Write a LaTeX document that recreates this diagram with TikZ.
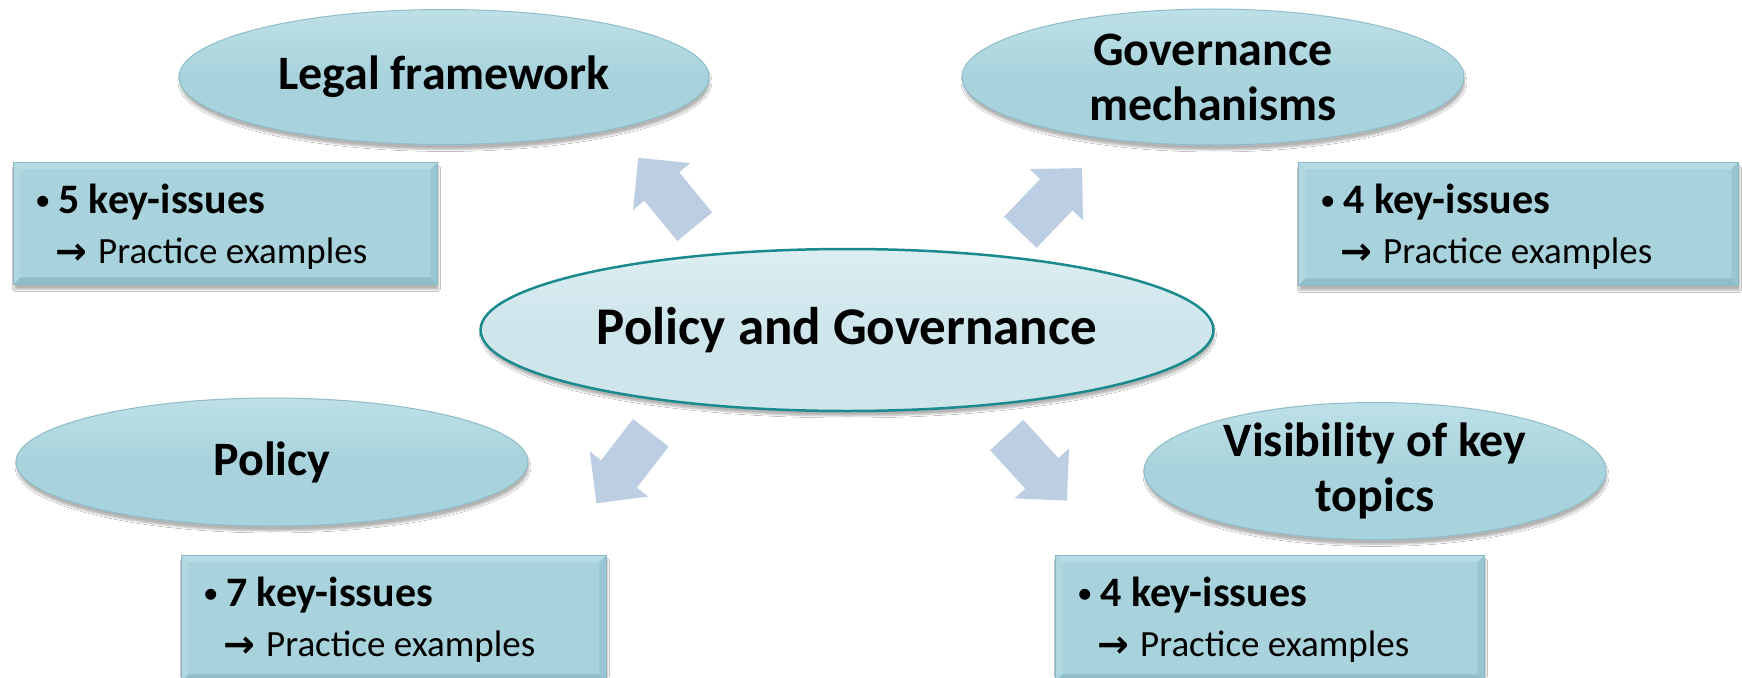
\documentclass[tikz,border=0pt]{standalone}
\usepackage{fontspec}
\setmainfont{Carlito}
\newfontfamily\symfont{DejaVu Sans}
\usetikzlibrary{shapes.geometric,shadows.blur}
\definecolor{tealfill}{HTML}{A8D3DC}
\definecolor{tealtop}{HTML}{BEE0E7}
\definecolor{tealedge}{HTML}{8EBEC9}
\definecolor{centerfill}{HTML}{CDE5EB}
\definecolor{centertop}{HTML}{DCEEF2}
\definecolor{centeredge}{HTML}{1B8A8C}
\definecolor{arrowfill}{HTML}{BDCDE2}
\definecolor{bevtop}{HTML}{B8DCE4}
\definecolor{bevleft}{HTML}{B1D8E0}
\definecolor{bevbot}{HTML}{8FBEC9}
\definecolor{bevright}{HTML}{98C6D0}
\definecolor{boxedge}{HTML}{8AB9C4}
\newcommand\smallbullet{\makebox[23pt][l]{\raisebox{3pt}{\mdseries\fontsize{31}{31}\selectfont •}}}
\newcommand\practicearrow{\makebox[43pt][l]{\raisebox{-1pt}{\symfont\bfseries\fontsize{38}{40}\selectfont →}}}
\begin{document}
\begin{tikzpicture}[x=1pt,y=-1pt,
  softshadow/.style={blur shadow={shadow xshift=1pt, shadow yshift=-5pt, shadow opacity=30, shadow blur steps=6}},
  oval/.style={ellipse, inner sep=0pt, top color=tealtop, bottom color=tealfill, middle color=tealfill,
    draw=tealedge, line width=1pt, softshadow, align=center,
    font=\bfseries\fontsize{48}{55}\selectfont},
  mainoval/.style={ellipse, inner sep=0pt, top color=centertop, bottom color=centerfill, middle color=centerfill,
    draw=centeredge, line width=2.5pt, softshadow, align=center,
    font=\bfseries\fontsize{53}{60}\selectfont},
  keybox/.style={rectangle, inner sep=0pt, anchor=north west, fill=tealfill, draw=boxedge, line width=0.8pt, softshadow,
    path picture={
      \fill[bevtop] (path picture bounding box.north west) -- (path picture bounding box.north east)
        -- ([shift={(-7pt,-7pt)}]path picture bounding box.north east) -- ([shift={(7pt,-7pt)}]path picture bounding box.north west) -- cycle;
      \fill[bevleft] (path picture bounding box.north west) -- ([shift={(7pt,-7pt)}]path picture bounding box.north west)
        -- ([shift={(7pt,7pt)}]path picture bounding box.south west) -- (path picture bounding box.south west) -- cycle;
      \fill[bevbot] (path picture bounding box.south west) -- (path picture bounding box.south east)
        -- ([shift={(-7pt,7pt)}]path picture bounding box.south east) -- ([shift={(7pt,7pt)}]path picture bounding box.south west) -- cycle;
      \fill[bevright] (path picture bounding box.north east) -- (path picture bounding box.south east)
        -- ([shift={(-7pt,7pt)}]path picture bounding box.south east) -- ([shift={(-7pt,-7pt)}]path picture bounding box.north east) -- cycle;
    }},
  bline/.style={anchor=base west, inner sep=0pt, font=\bfseries\fontsize{42}{50}\selectfont},
  pline/.style={anchor=base west, inner sep=0pt, font=\fontsize{37}{44}\selectfont},
  blockarrow/.pic={\fill[arrowfill] (0,-22.5) -- (52,-22.5) -- (52,-37) -- (89,0) -- (52,37) -- (52,22.5) -- (0,22.5) -- cycle;}
]
\clip (0,0) rectangle (1742,677);
\fill[white] (0,0) rectangle (1742,677);

% ellipses
\node[oval, minimum width=530pt, minimum height=135pt] (legal) at (444,77) {Legal framework};
\node[oval, minimum width=502pt, minimum height=136pt] (gov) at (1213,77) {Governance\\mechanisms};
\node[oval, minimum width=512pt, minimum height=128pt] (pol) at (272,462) {Policy};
\node[oval, minimum width=462pt, minimum height=137pt] (vis) at (1375,471) {Visibility of key\\topics};
\node[mainoval, minimum width=733pt, minimum height=162pt] (pg) at (847,330) {Policy and Governance};

% boxes
\node[keybox, minimum width=424pt, minimum height=122pt] (b1) at (13,162) {};
\node[keybox, minimum width=440pt, minimum height=123pt] (b2) at (1298,162) {};
\node[keybox, minimum width=425pt, minimum height=126pt] (b3) at (181,555) {};
\node[keybox, minimum width=429pt, minimum height=126pt] (b4) at (1055,555) {};

\foreach \b/\n in {b1/5, b2/4, b3/7, b4/4}{
  \node[bline] (\b a) at ([shift={(22pt,-51pt)}]\b.north west) {\smallbullet\n\ key-issues};
  \node[pline] (\b b) at ([shift={(42pt,-101pt)}]\b.north west) {\practicearrow Practice examples};
}

% block arrows
\coordinate (a1) at (694.7,226.7);
\coordinate (a2) at (1020.3,232.2);
\coordinate (a3) at (650.8,432.8);
\coordinate (a4) at (1006.7,435);
\pic[rotate=129.3] at (a1) {blockarrow};
\pic[rotate=46.1] at (a2) {blockarrow};
\pic[rotate=232.3] at (a3) {blockarrow};
\pic[rotate=-47.5] at (a4) {blockarrow};
\end{tikzpicture}
\end{document}
